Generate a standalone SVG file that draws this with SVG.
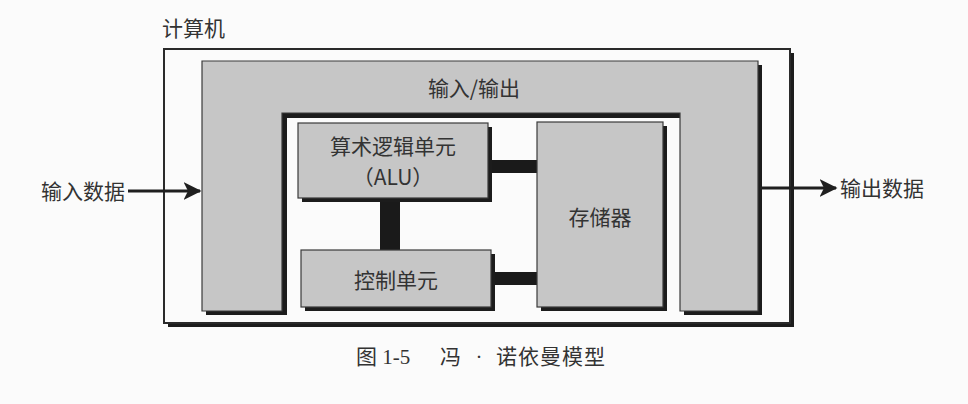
<svg xmlns="http://www.w3.org/2000/svg" width="968" height="404" viewBox="0 0 968 404">
<defs>
<style>
.t{font-family:"Noto Sans CJK SC","Liberation Sans",sans-serif;font-size:21px;fill:#333;}
.cap{font-family:"Liberation Serif","Noto Sans CJK SC",serif;font-size:21px;fill:#333;}
.gray{fill:#c6c6c6;stroke:#3a3a3a;stroke-width:1.2;}
.sh{fill:#1c1c1c;}
.bar{fill:#1a1a1a;}
.arr{stroke:#1f1f1f;stroke-width:3;fill:none;}
</style>
<marker id="ah" viewBox="0 0 12 12" refX="11" refY="6" markerWidth="6" markerHeight="6" markerUnits="strokeWidth" orient="auto">
<path d="M0,0 L12,6 L0,12 L3,6 Z" fill="#1f1f1f"/>
</marker>
</defs>
<rect width="968" height="404" fill="#fbfbfb"/>

<g id="computer">
<rect x="168" y="53" width="626" height="274" class="sh"/>
<rect x="164" y="49" width="626" height="274" fill="#fbfbfb" stroke="#2a2a2a" stroke-width="2"/>
<text x="162" y="36" class="t" font-size="20">计算机</text>
</g>

<g id="io">
<path d="M206,65 H762 V315 H684 V118 H287 V315 H206 Z" class="sh"/>
<path d="M202,61 H758 V311 H680 V113 H282 V311 H202 Z" class="gray"/>
<text x="474" y="96" class="t" text-anchor="middle">输入/输出</text>
</g>

<g id="connectors">
<rect x="488" y="160" width="50" height="13" class="bar"/>
<rect x="490" y="272" width="48" height="13" class="bar"/>
<rect x="380" y="198" width="20" height="54" class="bar"/>
<line x1="128" y1="191" x2="200" y2="191" class="arr" marker-end="url(#ah)"/>
<line x1="760" y1="188" x2="836" y2="188" class="arr" marker-end="url(#ah)"/>
</g>

<g id="alu">
<rect x="302" y="127" width="190" height="75" class="sh"/>
<rect x="298" y="123" width="190" height="75" class="gray"/>
<text x="393" y="154" class="t" text-anchor="middle">算术逻辑单元</text>
<text x="393" y="185" class="t" text-anchor="middle" font-size="20">（ALU）</text>
</g>

<g id="control">
<rect x="305" y="254" width="190" height="57" class="sh"/>
<rect x="301" y="250" width="190" height="57" class="gray"/>
<text x="396" y="288" class="t" text-anchor="middle">控制单元</text>
</g>

<g id="memory">
<rect x="541" y="126" width="126" height="185" class="sh"/>
<rect x="537" y="122" width="126" height="185" class="gray"/>
<text x="600" y="225" class="t" text-anchor="middle">存储器</text>
</g>

<g id="input">
<text x="41" y="199" class="t">输入数据</text>
</g>
<g id="output">
<text x="840" y="196" class="t">输出数据</text>
</g>

<g id="caption">
<text x="356" y="364" class="cap">图 1-5</text>
<text x="440" y="364" class="cap">冯</text>
<text x="479" y="364" class="cap" text-anchor="middle">·</text>
<text x="496" y="364" class="cap" letter-spacing="1">诺依曼模型</text>
</g>
</svg>
